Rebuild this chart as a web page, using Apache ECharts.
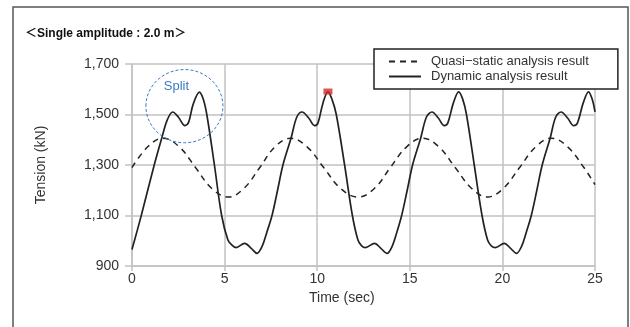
<!DOCTYPE html>
<html>
<head>
<meta charset="utf-8">
<script src="https://cdn.jsdelivr.net/npm/echarts@6/dist/echarts.min.js"></script>
<style>
html,body{margin:0;padding:0;background:#fff;}
#c{width:630px;height:327px;}
</style>
</head>
<body>
<div id="c"></div>
<script>
// ---- data ----
var titleText = '＜Single amplitude : 2.0 m＞';
var xAxisName = 'Time (sec)';
var yAxisName = 'Tension (kN)';
var seriesNames = ['Quasi\u2212static analysis result', 'Dynamic analysis result'];
var xTicks = [0, 5, 10, 15, 20, 25];
var yTicks = [900, 1100, 1300, 1500, 1700];

var quasiTime = [0, 0.85, 1.67, 2.55, 3.43, 4.3, 5.2, 6.05, 6.9, 7.72, 8.56, 9.45, 10.35, 11.25, 12.2, 13.1, 13.95, 14.83, 15.7, 16.57, 17.45, 18.33, 19.2, 20.06, 20.93, 21.8, 22.65, 23.52, 24.4, 25];
var quasiTension = [1290, 1372, 1406, 1372, 1290, 1208, 1173, 1208, 1290, 1372, 1406, 1372, 1290, 1208, 1173, 1208, 1290, 1372, 1406, 1372, 1290, 1208, 1173, 1208, 1290, 1372, 1406, 1372, 1290, 1222];

var dynTime = [0, 0.5, 1.2, 1.62, 1.9, 2.2, 2.5, 2.86, 3.05, 3.3, 3.64, 3.85, 4.05, 4.45, 4.84, 5.18, 5.4, 5.62, 6.08, 6.44, 6.75,
  7.02, 7.29, 7.56, 7.86, 8.15, 8.59, 8.9, 9.18, 9.54, 9.86, 10.04, 10.31, 10.58, 10.8, 11.03, 11.48, 11.9, 12.2, 12.4, 12.6, 13.1, 13.44, 13.77,
  14.04, 14.31, 14.56, 14.86, 15.15, 15.59, 15.9, 16.2, 16.54, 16.86, 17.05, 17.35, 17.64, 17.86, 18.06, 18.48, 18.9, 19.2, 19.4, 19.62, 20.1, 20.44, 20.76,
  21.03, 21.3, 21.56, 21.86, 22.15, 22.58, 22.88, 23.17, 23.52, 23.85, 24.05, 24.36, 24.65, 24.85, 25];
var dynTension = [965, 1100, 1300, 1410, 1478, 1510, 1490, 1456, 1468, 1540, 1589, 1560, 1495, 1300, 1100, 1003, 983, 973, 990, 970, 950,
  977, 1036, 1100, 1200, 1300, 1407, 1490, 1510, 1486, 1456, 1466, 1545, 1590, 1560, 1500, 1300, 1100, 1003, 980, 973, 990, 970, 950,
  977, 1036, 1100, 1200, 1300, 1407, 1490, 1510, 1486, 1456, 1466, 1545, 1590, 1560, 1500, 1300, 1100, 1003, 980, 973, 990, 970, 950,
  977, 1036, 1100, 1200, 1300, 1407, 1490, 1510, 1486, 1456, 1466, 1545, 1590, 1560, 1510];

var maxPoint = [10.58, 1591];
var splitLabel = 'Split';
var splitCenter = [2.83, 1533];
var splitRadius = [2.08, 145];

function zip(a, b) { return a.map(function (v, i) { return [v, b[i]]; }); }

var chart = echarts.init(document.getElementById('c'), null, {renderer: 'canvas'});
var FONT = '"Liberation Sans", Arial, sans-serif';
var GRID = '#c2c2c2';

function staticGraphics() {
  return [
    {type: 'polyline', shape: {points: [[13, 327], [13, 7], [628, 7], [628, 327]]},
      style: {stroke: '#555', lineWidth: 1.5, fill: null}, silent: true},
    {type: 'text', left: 25, top: 28,
      style: {text: titleText, font: 'bold 12px "Liberation Sans", Arial, "Noto Sans CJK JP", sans-serif', fill: '#111'}},
    {type: 'text', left: 309, top: 291,
      style: {text: xAxisName, font: '14px "Liberation Sans", Arial, sans-serif', fill: '#333'}}
  ];
}

var option = {
  backgroundColor: '#fff',
  animation: false,
  grid: {left: 132, right: 35, top: 64, bottom: 61},
  legend: {
    data: seriesNames,
    orient: 'vertical',
    left: 374, top: 49,
    itemWidth: 32, itemHeight: 14, itemGap: 2,
    padding: [6, 29, 6, 14],
    backgroundColor: '#fff',
    borderColor: '#222', borderWidth: 1.5, borderRadius: 0,
    itemStyle: {opacity: 0, color: 'rgba(0,0,0,0)', borderWidth: 0},
    textStyle: {fontFamily: FONT, fontSize: 13, color: '#333', padding: [0, 0, 0, 5]}
  },
  xAxis: {
    type: 'value', min: 0, max: 25, interval: 5,
    axisLine: {show: true, lineStyle: {color: GRID, width: 1.5}},
    axisTick: {show: true, length: 5, lineStyle: {color: GRID, width: 1.5}},
    splitLine: {show: true, lineStyle: {color: GRID, width: 1.5}},
    axisLabel: {fontFamily: FONT, fontSize: 14, color: '#333', margin: 6,
      formatter: function (v) { return xTicks.indexOf(v) >= 0 ? String(v) : ''; }}
  },
  yAxis: {
    type: 'value', min: 900, max: 1700, interval: 200,
    name: yAxisName, nameLocation: 'middle', nameGap: 84, nameRotate: 90,
    nameTextStyle: {fontFamily: FONT, fontSize: 14, color: '#333'},
    axisLine: {show: true, lineStyle: {color: GRID, width: 1.5}},
    axisTick: {show: true, length: 7, lineStyle: {color: GRID, width: 1.5}},
    splitLine: {show: true, lineStyle: {color: GRID, width: 1.5}},
    axisLabel: {fontFamily: FONT, fontSize: 14, color: '#333', margin: 13,
      formatter: function (v) { return yTicks.indexOf(v) >= 0 ? v.toLocaleString('en-US') : ''; }}
  },
  series: [
    {
      name: seriesNames[0], type: 'line', data: zip(quasiTime, quasiTension),
      symbol: 'none', smooth: 0.4, z: 3,
      lineStyle: {color: '#222', width: 1.5, type: [6, 5]},
      itemStyle: {color: '#222'}
    },
    {
      name: seriesNames[1], type: 'line', data: zip(dynTime, dynTension),
      symbol: 'none', smooth: 0.35, z: 4,
      lineStyle: {color: '#222', width: 1.7},
      itemStyle: {color: '#222'}
    },
    {
      name: 'max', type: 'scatter', data: [maxPoint], symbol: 'rect', symbolSize: [9, 6],
      itemStyle: {color: '#d7282a'}, z: 5, silent: true
    }
  ],
  graphic: staticGraphics()
};
chart.setOption(option);

var c0 = chart.convertToPixel({gridIndex: 0}, splitCenter);
var c1 = chart.convertToPixel({gridIndex: 0}, [splitCenter[0] + splitRadius[0], splitCenter[1] + splitRadius[1]]);
var rx = Math.abs(c1[0] - c0[0]), ry = Math.abs(c1[1] - c0[1]);
chart.setOption({
  graphic: staticGraphics().concat([
    {type: 'ellipse', shape: {cx: c0[0], cy: c0[1], rx: rx, ry: ry}, z: 10,
      style: {stroke: '#3a7cc4', lineWidth: 1, lineDash: [3, 2], fill: null}, silent: true},
    {type: 'text', x: c0[0] - 8, y: c0[1] - 20, z: 10,
      style: {text: splitLabel, font: '13px "Liberation Sans", Arial, sans-serif', fill: '#3a7cc4', textAlign: 'center', textVerticalAlign: 'middle'}}
  ])
}, {replaceMerge: ['graphic']});
</script>
</body>
</html>
